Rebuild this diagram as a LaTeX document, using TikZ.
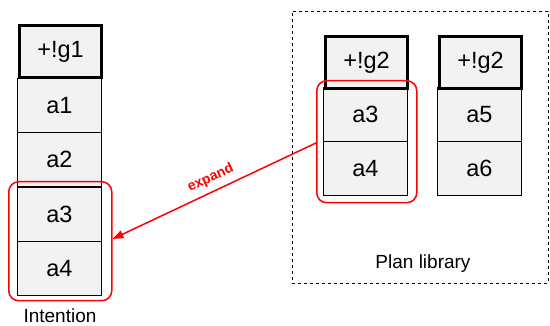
\documentclass[tikz,border=0pt]{standalone}
\usepackage{fontspec}
\setmainfont{Liberation Sans}
\usetikzlibrary{arrows.meta}
\definecolor{cellgray}{HTML}{F2F2F2}
\definecolor{expred}{HTML}{FF0000}
\begin{document}
\begin{tikzpicture}[x=1pt,y=-1pt,
  cell/.style={draw=black,line width=1pt,fill=cellgray,minimum width=84pt,minimum height=54pt,inner sep=0pt,font=\fontsize{23.5}{25}\selectfont,anchor=north west},
  head/.style={cell,line width=3.2pt,minimum width=82pt,minimum height=52pt},
  hilite/.style={draw=expred,line width=1.5pt,rounded corners=10pt},
  lbl/.style={font=\fontsize{19}{21}\selectfont}]
\useasboundingbox (0,0) rectangle (550,326);
% Intention stack
\node[cell] (a1) at (17,78) {a1};
\node[cell] (a2) at (17,132) {a2};
\node[cell] (ia3) at (17,187) {a3};
\node[cell] (ia4) at (17,241) {a4};
\node[head] (g1) at (18,24) {+!g1};
\node[lbl] (intention) at (60,316) {Intention};
% Plan library
\node[draw,dashed,line width=0.8pt,minimum width=256pt,minimum height=272pt,anchor=north west] (lib) at (292,11) {};
\node[cell] (pa3) at (323,87) {a3};
\node[cell] (pa4) at (323,141) {a4};
\node[head] (g2a) at (324,35) {+!g2};
\node[cell] (a5) at (437,87) {a5};
\node[cell] (a6) at (437,141) {a6};
\node[head] (g2b) at (438,35) {+!g2};
\node[lbl] (libl) at (423,264) {Plan library};
% highlights
\node[hilite,minimum width=103pt,minimum height=119pt,anchor=north west] (hl) at (8,181) {};
\node[hilite,minimum width=100pt,minimum height=122pt,anchor=north west] (hr) at (316,80) {};
% arrow
\draw[expred,line width=1.5pt,-{Triangle[length=11pt,width=8pt]}] (hr.west|-0,143) -- node[pos=0.49,above,sloped,font=\bfseries\fontsize{14}{16}\selectfont,inner sep=6pt] {expand} (hl.east|-0,239);
\end{tikzpicture}
\end{document}
